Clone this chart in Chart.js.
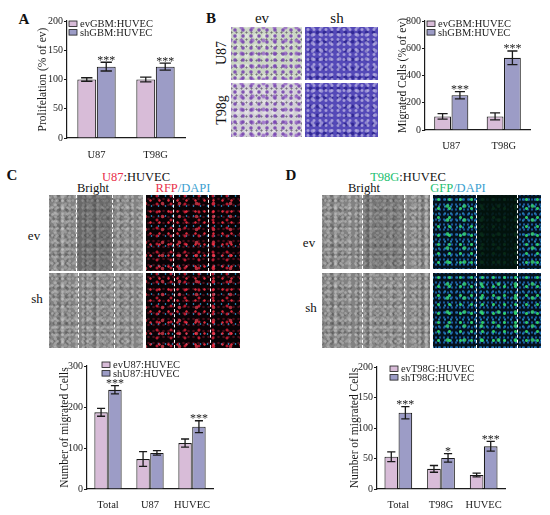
<!DOCTYPE html>
<html><head><meta charset="utf-8">
<script src="https://cdn.jsdelivr.net/npm/chart.js@4/dist/chart.umd.min.js"></script>
<style>
html,body{margin:0;padding:0;background:#fff}
body{width:550px;height:515px;position:relative;overflow:hidden;font-family:'Liberation Serif','Times New Roman',serif;color:#111}
canvas.ch{position:absolute}
.t{position:absolute;white-space:nowrap;transform:translate(-50%,-50%);line-height:1;z-index:2}
.rot{transform:translate(-50%,-50%) rotate(-90deg)}
.img{position:absolute;overflow:hidden}
.dash{position:absolute;top:0;bottom:0;width:0;border-left:1.6px dashed #fff}
.bright{background:
 radial-gradient(circle,rgba(225,225,225,.4) .8px,transparent 1.7px) 1px 2px/5px 7px,
 radial-gradient(circle,rgba(215,215,215,.35) 1px,transparent 2px) 3px 0/7px 4px,
 radial-gradient(circle,rgba(205,205,205,.3) 1.2px,transparent 2.4px) 0 5px/11px 9px,
 radial-gradient(circle,rgba(45,45,45,.28) .9px,transparent 1.8px) 2px 1px/6px 9px,
 radial-gradient(circle,rgba(40,40,40,.22) 1px,transparent 2px) 5px 3px/9px 5px,
 radial-gradient(circle,rgba(235,235,235,.25) 1.5px,transparent 3px) 7px 7px/13px 11px,
 #828282}
.gap{position:absolute;top:0;bottom:0;background:rgba(50,50,50,.3)}
.rfp{background:
 radial-gradient(circle,rgba(255,50,70,.85) .8px,transparent 1.6px) 0 0/9px 11px,
 radial-gradient(circle,rgba(220,30,55,.8) 1px,transparent 1.9px) 4px 5px/14px 8px,
 radial-gradient(circle,rgba(255,70,90,.65) 1.3px,transparent 2.2px) 8px 2px/17px 13px,
 radial-gradient(circle,rgba(40,150,210,.8) .6px,transparent 1.2px) 2px 6px/7px 10px,
 radial-gradient(circle,rgba(120,20,40,.6) .8px,transparent 1.6px) 5px 1px/5px 6px,
 #080205}
.gfp{background:
 radial-gradient(circle,rgba(50,225,110,.85) 1px,transparent 2px) 0 0/11px 9px,
 radial-gradient(circle,rgba(60,230,120,.75) 1.3px,transparent 2.4px) 6px 4px/17px 14px,
 radial-gradient(circle,rgba(30,100,180,.85) .8px,transparent 1.5px) 1px 2px/4px 5px,
 radial-gradient(circle,rgba(45,150,210,.8) .8px,transparent 1.5px) 3px 1px/6px 7px,
 #04121e}
.gdark{position:absolute;top:0;bottom:0;background:rgba(2,18,10,.88)}
.evimg{background:
 radial-gradient(circle,rgba(120,70,175,.9) 1.1px,transparent 2.3px) 0 0/8px 6px,
 radial-gradient(circle,rgba(150,100,200,.8) 1.3px,transparent 2.6px) 5px 7px/11px 13px,
 radial-gradient(circle,rgba(60,50,70,.6) .7px,transparent 1.4px) 3px 2px/5px 7px,
 radial-gradient(circle,rgba(255,255,255,.35) 1.5px,transparent 3px) 2px 4px/9px 10px,
 #cbd6c4}
.shimg{background:
 radial-gradient(circle,rgba(185,178,225,.8) .9px,transparent 2px) 0 0/6px 5px,
 radial-gradient(circle,rgba(200,195,235,.55) 1.2px,transparent 2.4px) 3px 4px/9px 8px,
 radial-gradient(circle,rgba(40,32,140,.8) 1.2px,transparent 2.4px) 2px 1px/7px 9px,
 #5449b8}
</style>
</head>
<body>

<!-- panel letters -->
<div class="t" style="left:24px;top:19px;font-size:15px;font-weight:bold">A</div>
<div class="t" style="left:211px;top:18px;font-size:15px;font-weight:bold">B</div>
<div class="t" style="left:12px;top:175px;font-size:15px;font-weight:bold">C</div>
<div class="t" style="left:291px;top:175px;font-size:15px;font-weight:bold">D</div>

<!-- B images -->
<div class="t" style="left:262px;top:18px;font-size:15px">ev</div>
<div class="t" style="left:337px;top:18px;font-size:15px">sh</div>
<div class="t rot" style="left:222px;top:53px;font-size:14px">U87</div>
<div class="t rot" style="left:222px;top:110px;font-size:14px">T98g</div>
<div class="img evimg" style="left:231px;top:27px;width:71px;height:53px"></div>
<div class="img shimg" style="left:305px;top:27px;width:73px;height:53px"></div>
<div class="img evimg" style="left:231px;top:83px;width:71px;height:54px;background-color:#d2d0d6"></div>
<div class="img shimg" style="left:305px;top:83px;width:73px;height:54px"></div>

<!-- C images -->
<div class="t" style="left:136px;top:177px;font-size:12.5px"><span style="color:#e8304a">U87</span>:HUVEC</div>
<div class="t" style="left:93px;top:188px;font-size:12.5px">Bright</div>
<div class="t" style="left:183px;top:188px;font-size:12.5px"><span style="color:#e8304a">RFP</span><span style="color:#3aa0d0">/DAPI</span></div>
<div class="t" style="left:34px;top:235px;font-size:13px">ev</div>
<div class="t" style="left:37px;top:298px;font-size:13px">sh</div>
<div class="img bright" style="left:49px;top:195px;width:94px;height:76px"><div class="gap" style="left:28px;width:36px"></div><div class="dash" style="left:27px"></div><div class="dash" style="left:63px"></div></div>
<div class="img bright" style="left:49px;top:273px;width:94px;height:75px"><div class="dash" style="left:29px"></div><div class="dash" style="left:65px"></div></div>
<div class="img rfp" style="left:146px;top:195px;width:94px;height:76px"><div class="dash" style="left:27px"></div><div class="dash" style="left:62px"></div></div>
<div class="img rfp" style="left:146px;top:273px;width:94px;height:75px"><div class="dash" style="left:28px"></div><div class="dash" style="left:64px"></div></div>

<!-- D images -->
<div class="t" style="left:408px;top:177px;font-size:12.5px"><span style="color:#20c070">T98G</span>:HUVEC</div>
<div class="t" style="left:364px;top:188px;font-size:12.5px">Bright</div>
<div class="t" style="left:458px;top:188px;font-size:12.5px"><span style="color:#20c070">GFP</span><span style="color:#3aa0d0">/DAPI</span></div>
<div class="t" style="left:309px;top:242px;font-size:13px">ev</div>
<div class="t" style="left:311px;top:307px;font-size:13px">sh</div>
<div class="img bright" style="left:322px;top:195px;width:108px;height:74px"><div class="gap" style="left:41px;width:41px;background:rgba(60,60,60,.2)"></div><div class="dash" style="left:40px"></div><div class="dash" style="left:82px"></div></div>
<div class="img bright" style="left:322px;top:273px;width:108px;height:75px"><div class="dash" style="left:40px"></div><div class="dash" style="left:82px"></div></div>
<div class="img gfp" style="left:433px;top:195px;width:108px;height:74px"><div class="gdark" style="left:44px;width:41px"></div><div class="dash" style="left:43px"></div><div class="dash" style="left:84px"></div></div>
<div class="img gfp" style="left:433px;top:273px;width:108px;height:75px"><div class="dash" style="left:43px"></div><div class="dash" style="left:84px"></div></div>

<canvas id="cA" class="ch" width="160" height="150" style="left:36px;top:8px"></canvas>
<canvas id="cB" class="ch" width="150" height="142" style="left:396px;top:8px"></canvas>
<canvas id="cC" class="ch" width="165" height="160" style="left:58px;top:352px"></canvas>
<canvas id="cD" class="ch" width="167" height="160" style="left:348px;top:352px"></canvas>

<script>
// ---------- data ----------
const catsA = ['U87', 'T98G'];
const legendA = ['evGBM:HUVEC', 'shGBM:HUVEC'];
const evA = [100, 100];
const evAErr = [3, 4];
const shA = [122, 122];
const shAErr = [7.5, 6];
const starsA = ['***', '***'];
const ticksA = [0, 50, 100, 150, 200];

const catsB = ['U87', 'T98G'];
const legendB = ['evGBM:HUVEC', 'shGBM:HUVEC'];
const evB = [100, 100];
const evBErr = [20, 25];
const shB = [255, 530];
const shBErr = [26, 50];
const starsB = ['***', '***'];
const ticksB = [0, 100, 200, 300, 400, 500, 600, 700, 800];

const catsC = ['Total', 'U87', 'HUVEC'];
const legendC = ['evU87:HUVEC', 'shU87:HUVEC'];
const evC = [187, 73, 112];
const evCErr = [9.5, 18, 10];
const shC = [242, 88, 152];
const shCErr = [10, 5.5, 14.5];
const starsC = ['***', '', '***'];
const ticksC = [0, 100, 200, 300];

const catsD = ['Total', 'T98G', 'HUVEC'];
const legendD = ['evT98G:HUVEC', 'shT98G:HUVEC'];
const evD = [53, 33, 23];
const evDErr = [8, 5.5, 3];
const shD = [125, 51, 70];
const shDErr = [10, 7, 8];
const starsD = ['***', '*', '***'];
const ticksD = [0, 50, 100, 150, 200];

// ---------- styling ----------
const FONT = "'Liberation Serif','Times New Roman',serif";
const EV_COLOR = '#d8bcd8';
const SH_COLOR = '#9c9cc6';
const INK = '#1a1a1a';

const errPlugin = {
  id: 'errStars',
  afterDatasetsDraw(chart) {
    const ctx = chart.ctx;
    const y = chart.scales.y;
    chart.data.datasets.forEach((ds, di) => {
      const meta = chart.getDatasetMeta(di);
      meta.data.forEach((bar, i) => {
        const v = ds.data[i], e = ds.err[i];
        const w = bar.width * 0.6;
        const top = y.getPixelForValue(v + e);
        const bot = y.getPixelForValue(v - e);
        ctx.save();
        ctx.strokeStyle = INK;
        ctx.lineWidth = 1.3;
        ctx.beginPath();
        ctx.moveTo(bar.x, top); ctx.lineTo(bar.x, bot);
        ctx.moveTo(bar.x - w / 2, top); ctx.lineTo(bar.x + w / 2, top);
        ctx.moveTo(bar.x - w / 2, bot); ctx.lineTo(bar.x + w / 2, bot);
        ctx.stroke();
        const s = ds.stars ? ds.stars[i] : '';
        if (s) {
          ctx.fillStyle = INK;
          ctx.font = '12px ' + FONT;
          ctx.textAlign = 'center';
          ctx.textBaseline = 'alphabetic';
          ctx.fillText(s, bar.x, top + 1.5);
        }
        ctx.restore();
      });
    });
  }
};

const legendPlugin = {
  id: 'insideLegend',
  afterDraw(chart, args, opts) {
    const ctx = chart.ctx;
    const a = chart.chartArea;
    chart.data.datasets.forEach((ds, i) => {
      const x = a.left + opts.dx;
      const yy = a.top + opts.dy + i * 8.6;
      ctx.save();
      ctx.fillStyle = ds.backgroundColor;
      ctx.fillRect(x, yy, 8, 5.5);
      ctx.strokeStyle = INK; ctx.lineWidth = 0.8;
      ctx.strokeRect(x, yy, 8, 5.5);
      ctx.fillStyle = INK;
      ctx.font = '10.5px ' + FONT;
      ctx.textBaseline = 'middle';
      ctx.textAlign = 'left';
      ctx.fillText(ds.label, x + 11, yy + 3.3);
      ctx.restore();
    });
  }
};

function makeChart(id, cats, legend, ev, evErr, sh, shErr, stars, ticks, title, cfg) {
  const ds = (label, data, err, color, st) => ({
    label, data, err, stars: st, backgroundColor: color,
    borderColor: INK, borderWidth: 1.1,
    categoryPercentage: 0.66, barPercentage: 0.97
  });
  return new Chart(document.getElementById(id), {
    type: 'bar',
    data: {
      labels: cats,
      datasets: [
        ds(legend[0], ev, evErr, EV_COLOR, null),
        ds(legend[1], sh, shErr, SH_COLOR, stars)
      ]
    },
    plugins: [errPlugin, legendPlugin],
    options: {
      responsive: false,
      animation: false,
      layout: { padding: { top: cfg.padTop, right: cfg.padRight, left: 0, bottom: 0 } },
      plugins: {
        legend: { display: false },
        tooltip: { enabled: false },
        insideLegend: { dx: cfg.legDx, dy: cfg.legDy }
      },
      scales: {
        x: {
          grid: { display: false },
          border: { display: true, color: INK, width: 1.2 },
          ticks: { color: INK, font: { family: FONT, size: 10.5 }, padding: cfg.xPad,
                   maxRotation: 0, minRotation: 0, autoSkip: false },
          afterFit(s) { s.height = cfg.xH; }
        },
        y: {
          min: ticks[0], max: ticks[ticks.length - 1],
          afterBuildTicks(s) { s.ticks = ticks.map(v => ({ value: v })); },
          grid: { display: true, drawOnChartArea: false, drawTicks: true, tickLength: 3, color: INK, lineWidth: 1 },
          border: { display: true, color: INK, width: 1.2 },
          ticks: { color: INK, font: { family: FONT, size: 10 }, padding: 1 },
          title: { display: true, text: title, color: INK, font: { family: FONT, size: 11.5 }, padding: { top: 0, bottom: 0 } },
          afterFit(s) { s.width = cfg.yW; }
        }
      }
    }
  });
}

makeChart('cA', catsA, legendA, evA, evAErr, shA, shAErr, starsA, ticksA, 'Prolifelation (% of ev)',
  { padTop: 13, padRight: 11, xH: 20, xPad: 3, yW: 31, legDx: 2, legDy: 0 });
makeChart('cB', catsB, legendB, evB, evBErr, shB, shBErr, starsB, ticksB, 'Migrated Cells (% of ev)',
  { padTop: 13, padRight: 16, xH: 20, xPad: 2, yW: 29, legDx: 2, legDy: 0 });
makeChart('cC', catsC, legendC, evC, evCErr, shC, shCErr, starsC, ticksC, 'Number of migrated Cells',
  { padTop: 14, padRight: 10, xH: 23, xPad: 2, yW: 29, legDx: 15, legDy: -4 });
makeChart('cD', catsD, legendD, evD, evDErr, shD, shDErr, starsD, ticksD, 'Number of migrated Cells',
  { padTop: 15, padRight: 10, xH: 23, xPad: 2, yW: 29, legDx: 13, legDy: -1 });
</script>
</body></html>
